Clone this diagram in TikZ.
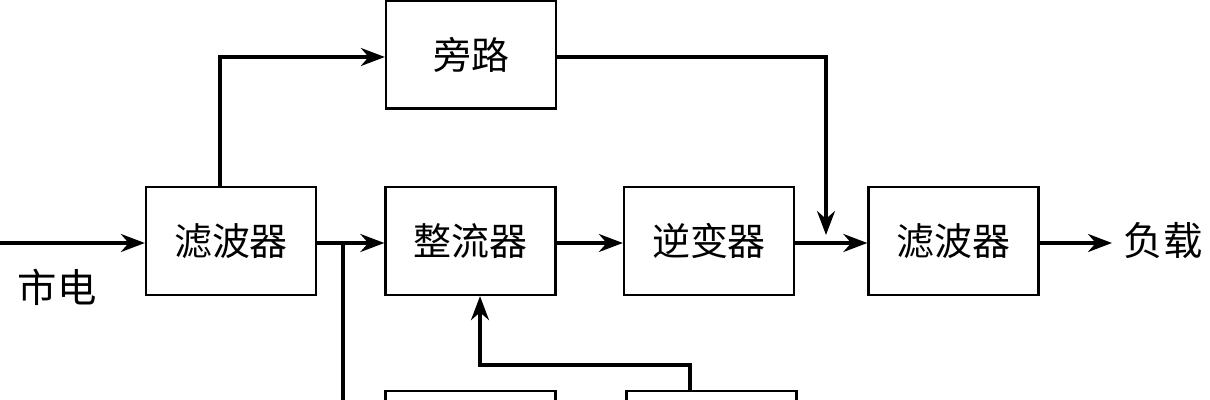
\documentclass[tikz,border=0pt]{standalone}
\usepackage{fontspec}
\newfontfamily\cjk{Noto Sans CJK SC}
\usetikzlibrary{arrows.meta}
\tikzset{
  blk/.style={draw,line width=1.6pt,minimum width=4.25cm,minimum height=2.7cm,font=\cjk\fontsize{27}{30}\selectfont},
  flow/.style={line width=2.2pt,-{Stealth[length=6mm,width=4.5mm]}},
  wire/.style={line width=2.2pt}
}
\begin{document}
\begin{tikzpicture}[x=0.025cm,y=-0.025cm]
\useasboundingbox (0,0) rectangle (1210,400);
\clip (0,0) rectangle (1210,400);
% main chain
\node[blk] (bypass) at (471,54.5) {旁路};
\node[blk] (filtin) at (231,241) {滤波器};
\node[blk] (rect) at (470.5,241) {整流器};
\node[blk] (inv) at (709,241) {逆变器};
\node[blk] (filtout) at (953.5,241) {滤波器};
% lower blocks (cut off)
\node[blk,anchor=north] (lowa) at (470.5,390) {};
\node[blk,anchor=north] (lowb) at (711.5,390) {};
\coordinate (in) at (0,243);
\coordinate (load) at (1112,243);
\coordinate (tap) at (343,243);
\node[font=\cjk\fontsize{28}{30}\selectfont] (mains) at (57,287) {市电};
\node[font=\cjk\fontsize{28}{30}\selectfont] (loadtxt) at (1163,241) {负载};

\draw[flow] (in) -- (filtin.west |- in);
\draw[flow] (filtin.north -| 220,0) |- (bypass.west |- 0,57);
\draw[flow] (bypass.east |- 0,57) -| (826,235);
\draw[flow] (filtin.east |- tap) -- (rect.west |- tap);
\draw[wire] (tap) -- (343,400);
\draw[flow] (rect.east |- tap) -- (inv.west |- tap);
\draw[flow] (inv.east |- tap) -- (filtout.west |- tap);
\draw[flow] (filtout.east |- tap) -- (load);
\draw[flow] (690,390) -- (690,365) -| (rect.south -| 480,0);
\end{tikzpicture}
\end{document}
